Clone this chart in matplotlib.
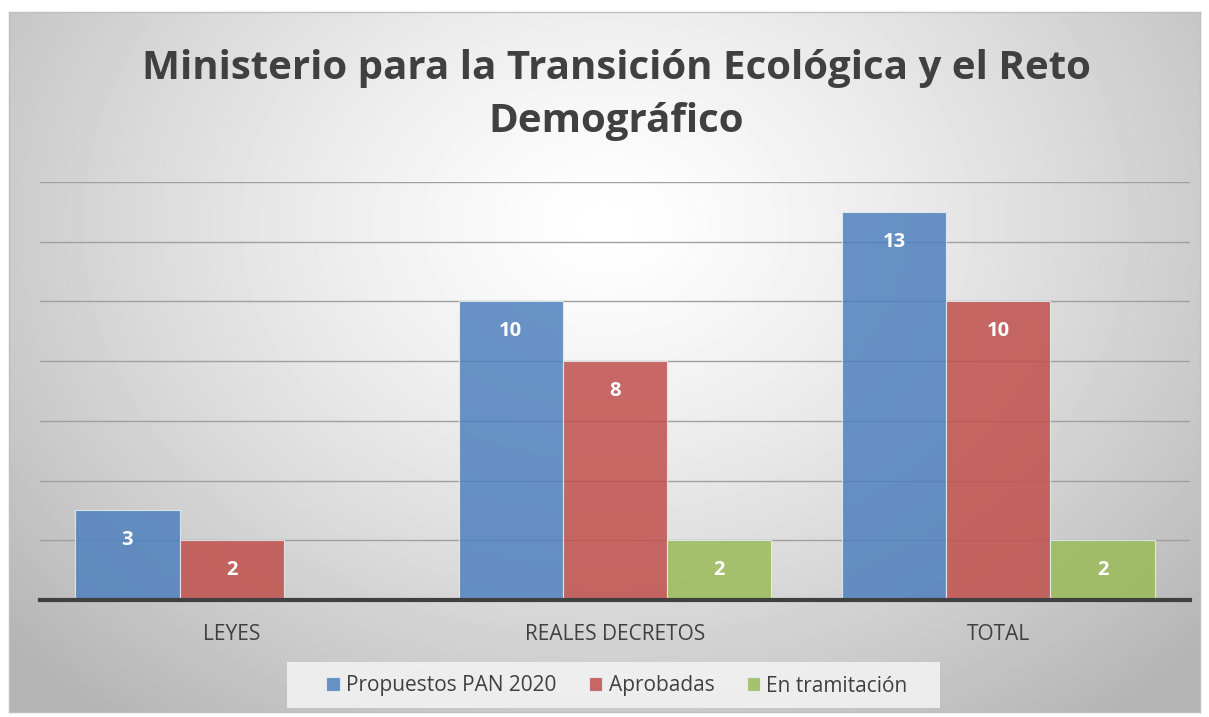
import numpy as np
import matplotlib.pyplot as plt
from matplotlib.patches import Rectangle

categories = ['LEYES', 'REALES DECRETOS', 'TOTAL']
series_names = ['Propuestos PAN 2020', 'Aprobadas', 'En tramitación']
propuestos = [3, 10, 13]
aprobadas = [2, 8, 10]
tramitacion = [None, 2, 2]
colors = ['#4f81bd', '#c0504d', '#9bbb59']
title = 'Ministerio para la Transición Ecológica y el Reto\nDemográfico'

W, H = 1209, 717
fig = plt.figure(figsize=(W / 100, H / 100), dpi=100)
fig.patch.set_facecolor('white')

# background with radial gradient (chart frame)
x0, y0, x1, y1 = 9, 12, 1200, 712
bg = fig.add_axes([x0 / W, 1 - y1 / H, (x1 - x0) / W, (y1 - y0) / H])
yy, xx = np.mgrid[0:200, 0:340]
cx, cy = 170, 200 * 0.30
d = np.sqrt(((xx - cx) / 190) ** 2 + ((yy - cy) / 150) ** 2)
shade = 1.0 - 0.23 * np.clip(d, 0, 1.2) ** 1.3
bg.imshow(shade, cmap='gray', vmin=0, vmax=1, aspect='auto', origin='upper',
          extent=[0, 1, 0, 1], interpolation='bicubic')
bg.set_xlim(0, 1)
bg.set_ylim(0, 1)
bg.set_xticks([])
bg.set_yticks([])
for s in bg.spines.values():
    s.set_color('#bfbfbf')
    s.set_linewidth(1)

ax = fig.add_axes([40 / W, 1 - 600 / H, 1150 / W, 418 / H])
ax.patch.set_alpha(0)
ax.set_xlim(-0.5, 2.5)
ax.set_ylim(0, 14)
ax.set_yticks(range(2, 15, 2))
ax.yaxis.grid(True, color='#a0a0a0', linewidth=1)
ax.set_axisbelow(True)
ax.tick_params(axis='y', left=False, labelleft=False)
ax.tick_params(axis='x', length=0, pad=17, labelsize=15, labelcolor='#404040')
for s in ['top', 'right', 'left']:
    ax.spines[s].set_visible(False)
ax.spines['bottom'].set_color('#404040')
ax.spines['bottom'].set_linewidth(3)
ax.spines['bottom'].set_zorder(5)

x = np.arange(len(categories))
w = 0.272
for i, (vals, c, name) in enumerate(zip([propuestos, aprobadas, tramitacion], colors, series_names)):
    pos = x + (i - 1) * w
    v = [0 if val is None else val for val in vals]
    ax.bar(pos, v, w, color=c, alpha=0.85, edgecolor='#e8eef4', linewidth=0.8,
           label=name, zorder=3)
    for p, val in zip(pos, vals):
        if val is None:
            continue
        ax.text(p, val - 1.0, str(val), ha='center', va='center', color='white',
                fontsize=14.5, fontweight='bold', family='Open Sans', zorder=6)

ax.set_xticks(x)
ax.set_xticklabels(categories, family='Open Sans')

fig.text(616 / W, 1 - 95 / H, title, ha='center', va='center', fontsize=29,
         fontweight='bold', color='#404040', family='Open Sans', linespacing=1.45)

# legend box
fig.patches.append(Rectangle((287 / W, 1 - 708 / H), (940 - 287) / W, 46 / H,
                             transform=fig.transFigure, facecolor='#f4f4f4',
                             edgecolor='none', alpha=0.85, zorder=0))
handles, labels = ax.get_legend_handles_labels()
leg = fig.legend(handles, labels, loc='center', bbox_to_anchor=(617 / W, 1 - 686 / H),
                 ncol=3, frameon=False, handlelength=0.65, handleheight=0.65,
                 columnspacing=1.55, handletextpad=0.3,
                 prop={'family': 'Open Sans', 'size': 15})
for t in leg.get_texts():
    t.set_color('#404040')

fig.savefig('out.png', dpi=100)
